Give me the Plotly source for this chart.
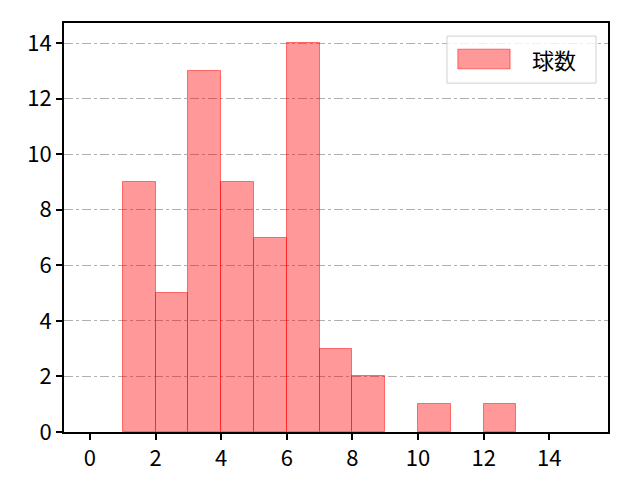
import plotly.graph_objects as go

bin_left = [1, 2, 3, 4, 5, 6, 7, 8, 9, 10, 11, 12]
counts = [9, 5, 13, 9, 7, 14, 3, 2, 0, 1, 0, 1]
series_name = "球数"
x_ticks = [0, 2, 4, 6, 8, 10, 12, 14]
y_ticks = [0, 2, 4, 6, 8, 10, 12, 14]

fill_color = "rgba(255,0,0,0.4)"
edge_color = "rgba(255,0,0,0.5)"
font_family = "Noto Sans CJK JP"

# empty bins are not drawn
xs = [b + 0.5 for b, c in zip(bin_left, counts) if c > 0]
ys = [c for c in counts if c > 0]

fig = go.Figure(
    go.Bar(
        x=xs,
        y=ys,
        width=1,
        name=series_name,
        marker=dict(color=fill_color, line=dict(color=edge_color, width=1)),
        showlegend=False,
    )
)

# legend box drawn by hand to look like matplotlib's
fig.add_shape(type="rect", xref="paper", yref="paper",
              x0=0.704, x1=0.978, y0=0.853, y1=0.968,
              line=dict(color="#d0d0d0", width=1), fillcolor="rgba(255,255,255,0.8)")
fig.add_shape(type="rect", xref="paper", yref="paper",
              x0=0.724, x1=0.820, y0=0.888, y1=0.936,
              line=dict(color=edge_color, width=1), fillcolor=fill_color)
fig.add_annotation(xref="paper", yref="paper", x=0.856, y=0.912,
                   text=series_name, showarrow=False, xanchor="left", yanchor="middle",
                   font=dict(size=22))

fig.update_layout(
    width=624,
    height=464,
    plot_bgcolor="white",
    paper_bgcolor="white",
    margin=dict(l=56, r=24, t=15, b=40),
    bargap=0,
    font=dict(family=font_family, size=22, color="black"),
)
fig.update_xaxes(
    range=[-0.79, 15.79],
    tickvals=x_ticks,
    ticks="outside", ticklen=6, tickwidth=1.5, tickcolor="black",
    showline=True, linecolor="black", linewidth=1.8, mirror=True,
    showgrid=False, zeroline=False, automargin=False,
)
fig.update_yaxes(
    range=[0, 14.72],
    tickvals=y_ticks,
    ticks="outside", ticklen=6, tickwidth=1.5, tickcolor="black",
    showline=True, linecolor="black", linewidth=1.8, mirror=True,
    showgrid=True, gridcolor="#b0b0b0", gridwidth=1, griddash="dashdot",
    zeroline=False, layer="above traces", automargin=False,
)

fig.write_html("out.html")
